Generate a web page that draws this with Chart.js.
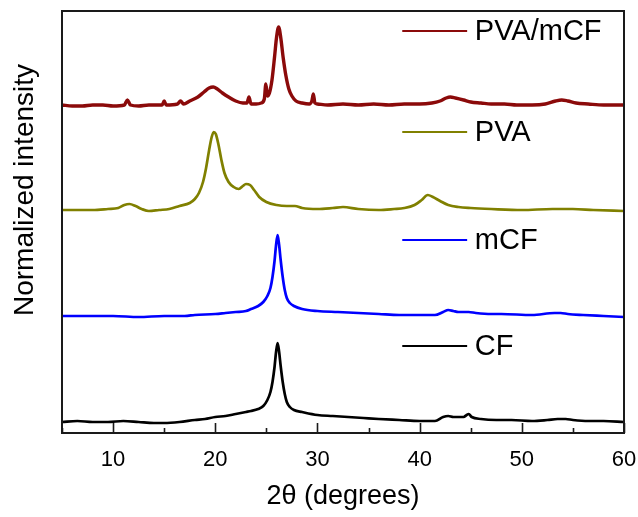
<!DOCTYPE html>
<html>
<head>
<meta charset="utf-8">
<script src="https://cdn.jsdelivr.net/npm/chart.js@4.4.1/dist/chart.umd.min.js"></script>
<style>
  html, body { margin: 0; padding: 0; background: #ffffff; }
  #wrap { width: 638px; height: 517px; position: relative; }
</style>
</head>
<body>
<div id="wrap"><canvas id="c" width="638" height="517"></canvas></div>
<script>
// ---- Data (2θ in degrees, intensity in arbitrary normalized units above each baseline) ----
const seriesNames = ["CF", "mCF", "PVA", "PVA/mCF"];
const seriesColors = ["#000000", "#0000ff", "#808000", "#8b0a0a"];
const offsets = [11, 117, 223, 328];

const cfX = [5, 6.5, 8, 9.5, 11, 12.5, 14, 15, 16.5, 18, 19, 20, 21, 22, 23, 23.5, 24.2, 24.7, 25.1, 25.4, 25.6, 25.8, 25.95, 26.1, 26.25, 26.4, 26.6, 26.8, 27.0, 27.3, 27.7, 28.5, 30, 31.5, 33, 34.5, 36, 38, 40, 41.5, 42.3, 42.8, 43.3, 43.8, 44.3, 44.6, 44.8, 45.1, 46, 47.5, 49, 51, 52.5, 53.5, 54.3, 55, 56.5, 58, 60];
const cfY = [0, 1, 0, 0, 1, 0, -1, -1, 0, 2, 3, 5, 6, 8, 10, 11, 13, 16, 22, 30, 40, 55, 70, 79, 70, 56, 40, 28, 20, 15, 12, 10, 7, 6, 5, 4, 3, 2, 1, 1, 5, 6, 5, 5, 5, 7, 8, 5, 3, 2, 2, 1, 2, 3, 3, 2, 1, 1, 0];

const mcfX = [5, 7, 10, 12.5, 15, 17, 18, 20, 21, 22, 23, 23.5, 24.2, 24.7, 25.1, 25.4, 25.6, 25.8, 25.95, 26.1, 26.25, 26.4, 26.6, 26.8, 27.0, 27.3, 27.7, 28.5, 30, 32, 34, 36, 38, 40, 41.5, 42.3, 42.8, 43.3, 43.8, 44.8, 45.5, 47, 48, 51, 53.2, 53.8, 54.5, 56, 58, 60];
const mcfY = [0, 0, 0, -1, 0, 0, 1, 2, 3, 4, 5, 7, 10, 14, 20, 28, 39, 55, 71, 81, 71, 56, 39, 26, 18, 13, 10, 7, 5, 4, 3, 2, 1, 1, 1, 4, 6, 5, 4, 4, 3, 2, 2, 1, 3, 3, 2, 1, 0, -1];

const pvaX = [5, 6.5, 8, 9.5, 10.5, 11.1, 11.6, 12.2, 12.8, 13.5, 14.5, 15.5, 16.5, 17.5, 18.0, 18.4, 18.8, 19.1, 19.4, 19.65, 19.85, 20.05, 20.3, 20.6, 20.9, 21.3, 21.8, 22.3, 22.7, 23.0, 23.4, 23.8, 24.3, 25, 26, 27, 27.8, 28.5, 30, 31.5, 32.5, 34, 36, 37.5, 38.5, 39.5, 40.2, 40.8, 41.3, 42, 42.8, 43.8, 45, 47, 50, 53, 55, 57, 60];
const pvaY = [0, 0, 0, 1, 2, 5, 6, 4, 1, -1, 0, 1, 4, 7, 11, 17, 28, 42, 60, 73, 78, 76, 66, 50, 37, 28, 23, 21, 24, 26, 25, 20, 13, 8, 5, 4, 4, 2, 1, 2, 3, 1, 0, 1, 2, 5, 10, 15, 13, 9, 5, 3, 2, 1, 0, 1, 1, 0, -1];

const compX = [5, 6, 7, 8, 9, 10, 11.1, 11.4, 11.7, 12.5, 13.5, 14.8, 15.0, 15.2, 16.3, 16.6, 16.9, 17.5, 18.3, 18.9, 19.4, 19.8, 20.2, 20.7, 21.3, 22, 22.7, 23.1, 23.3, 23.5, 24.0, 24.5, 24.8, 24.95, 25.1, 25.3, 25.55, 25.8, 26.0, 26.2, 26.4, 26.65, 26.9, 27.2, 27.5, 27.9, 28.5, 29.2, 29.45, 29.6, 29.75, 30, 31, 32.5, 34, 35.5, 37, 38.5, 40, 41.2, 42.0, 42.6, 43.0, 43.5, 44.3, 45, 46, 47, 48.3, 49.5, 51, 52.3, 53.3, 53.9, 54.5, 55.3, 56.5, 58, 59, 60];
const compY = [0, -1, -1, 0, 0, -1, 0, 5, 0, -1, 0, 0, 4, 0, 1, 4, 1, 4, 8, 13, 17, 18, 16, 12, 8, 4, 2, 2, 8, 1, 1, 2, 6, 21, 9, 12, 25, 48, 68, 78, 68, 47, 30, 16, 9, 4, 2, 1, 4, 11, 2, 1, 0, 1, 0, 1, 0, 1, 1, 2, 4, 7, 8, 7, 5, 3, 2, 1, 1, 0, 0, 1, 4, 5, 4, 2, 1, 0, 0, 0];

const xTicks = [10, 20, 30, 40, 50, 60];
const xMin = 5, xMax = 60, yMin = 0, yMax = 422;

const seriesX = [cfX, mcfX, pvaX, compX];
const seriesY = [cfY, mcfY, pvaY, compY];

const datasets = seriesNames.map((name, i) => ({
  label: name,
  data: seriesX[i].map((x, k) => ({ x: x, y: seriesY[i][k] + offsets[i] })),
  borderColor: seriesColors[i],
  backgroundColor: seriesColors[i],
  borderWidth: i === 3 ? 3.4 : 2.7,
  pointRadius: 0,
  cubicInterpolationMode: 'monotone',
  fill: false
}));

// Legend entries: placed near each trace (y in data units, x in 2θ units)
const legendYs = [87, 193, 301, 402];

const framePlugin = {
  id: 'frameAndExtras',
  afterDraw(chart) {
    const ctx = chart.ctx;
    const a = chart.chartArea;
    const xs = chart.scales.x, ys = chart.scales.y;
    ctx.save();
    // tick marks (inward)
    ctx.strokeStyle = '#1a1a1a';
    ctx.lineWidth = 1.6;
    for (let v = xMin; v <= xMax; v += 5) {
      const px = Math.round(xs.getPixelForValue(v)) + 0.5;
      const len = (v % 10 === 0) ? 10 : 5;
      ctx.beginPath();
      ctx.moveTo(px, a.bottom);
      ctx.lineTo(px, a.bottom - len);
      ctx.stroke();
    }
    // frame (solid bars so all four sides render crisply)
    ctx.fillStyle = '#1a1a1a';
    const L = Math.round(xs.getPixelForValue(xMin)), R = Math.round(xs.getPixelForValue(xMax));
    const T = Math.round(ys.getPixelForValue(yMax)), B = Math.round(ys.getPixelForValue(yMin));
    ctx.fillRect(L - 1, T - 1, R - L + 2, 2);
    ctx.fillRect(L - 1, B - 1, R - L + 2, 2);
    ctx.fillRect(L - 1, T - 1, 2, B - T + 2);
    ctx.fillRect(R - 1, T - 1, 2, B - T + 2);
    // legend
    ctx.font = '29px "Liberation Sans", Arial, sans-serif';
    ctx.textBaseline = 'middle';
    ctx.textAlign = 'left';
    for (let i = 0; i < seriesNames.length; i++) {
      const py = ys.getPixelForValue(legendYs[i]);
      const x0 = xs.getPixelForValue(38.3), x1 = xs.getPixelForValue(44.65);
      ctx.strokeStyle = seriesColors[i];
      ctx.lineWidth = 2;
      ctx.beginPath();
      ctx.moveTo(x0, py);
      ctx.lineTo(x1, py);
      ctx.stroke();
      ctx.fillStyle = '#000';
      ctx.fillText(seriesNames[i], xs.getPixelForValue(45.4), py + 1);
    }
    // y-axis title
    ctx.save();
    ctx.translate(25, 190);
    ctx.rotate(-Math.PI / 2);
    ctx.textAlign = 'center';
    ctx.textBaseline = 'middle';
    ctx.font = '28px "Liberation Sans", Arial, sans-serif';
    ctx.fillStyle = '#000';
    ctx.fillText('Normalized intensity', 0, 0);
    ctx.restore();
    ctx.restore();
  }
};

new Chart(document.getElementById('c'), {
  type: 'line',
  data: { datasets },
  options: {
    responsive: false,
    animation: false,
    layout: { padding: { left: 0, right: 14, top: 11, bottom: 0 } },
    plugins: { legend: { display: false }, tooltip: { enabled: false } },
    scales: {
      x: {
        type: 'linear',
        min: xMin, max: xMax,
        afterFit(s) { s.height = 84; s.paddingLeft = 0; s.paddingRight = 0; },
        afterBuildTicks(s) { s.ticks = xTicks.map(v => ({ value: v })); },
        grid: { display: false, drawTicks: false },
        border: { display: false },
        ticks: {
          padding: 14,
          color: '#000',
          font: { family: '"Liberation Sans", Arial, sans-serif', size: 22 },
          maxRotation: 0,
          autoSkip: false
        },
        title: {
          display: true,
          text: '2θ (degrees)',
          color: '#000',
          font: { family: '"Liberation Sans", Arial, sans-serif', size: 27 },
          padding: { top: 4, bottom: 4 }
        }
      },
      y: {
        type: 'linear',
        min: yMin, max: yMax,
        afterFit(s) { s.width = 62; s.paddingTop = 0; s.paddingBottom = 0; },
        grid: { display: false, drawTicks: false },
        border: { display: false },
        ticks: { display: false }
      }
    }
  },
  plugins: [framePlugin]
});
</script>
</body>
</html>
